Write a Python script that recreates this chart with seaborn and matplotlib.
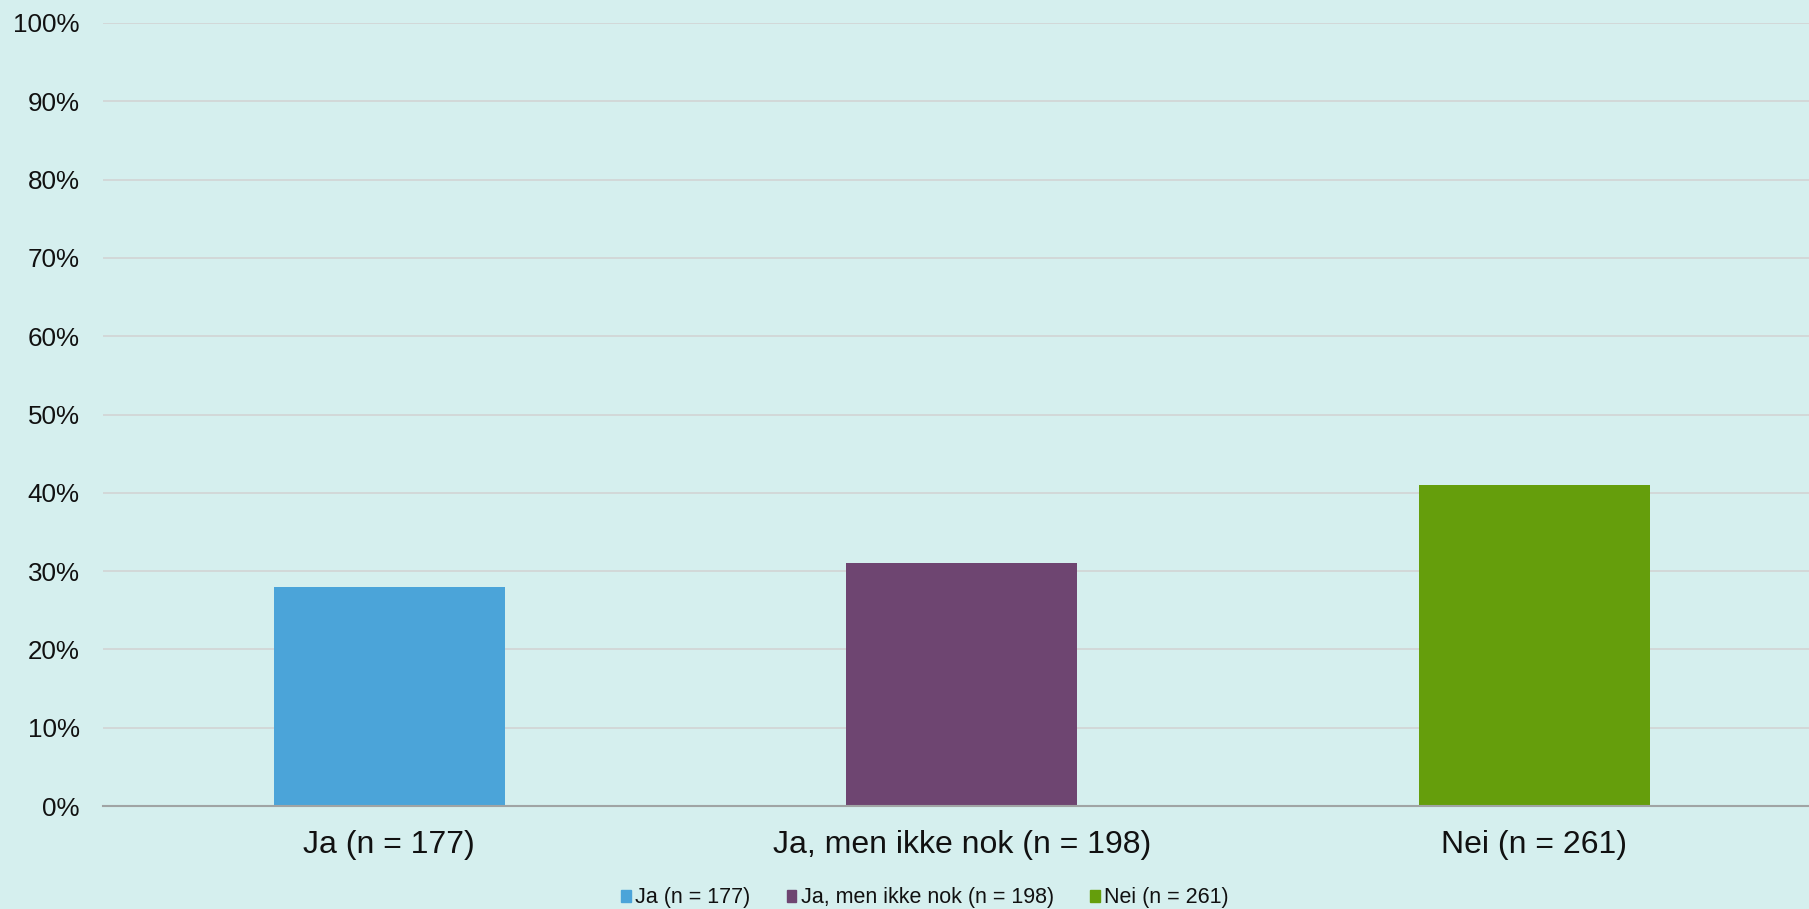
import matplotlib.pyplot as plt
import matplotlib.ticker as ticker
import pandas as pd
import seaborn as sns

# data
categories = ["Ja (n = 177)", "Ja, men ikke nok (n = 198)", "Nei (n = 261)"]
shares = [0.28, 0.31, 0.41]
colors = ["#4BA4D9", "#6E4571", "#659E0C"]

BG = "#D5EFEE"

df = pd.DataFrame({"svar": categories, "andel": shares})

sns.set_theme(style="white")
plt.rcParams["font.family"] = ["Liberation Sans", "DejaVu Sans"]

fig = plt.figure(figsize=(18.09, 9.09), dpi=100, facecolor=BG)
ax = fig.add_axes([0.057, 0.1133, 0.943, 0.8614])
ax.set_facecolor(BG)

sns.barplot(
    data=df,
    x="svar",
    y="andel",
    hue="svar",
    palette=colors,
    width=0.403,
    dodge=False,
    saturation=1,
    linewidth=0,
    legend=False,
    ax=ax,
)

ax.set_xlim(-0.5, 2.48)
ax.set_ylim(0, 1)
ax.yaxis.set_major_locator(ticker.MultipleLocator(0.1))
ax.yaxis.set_major_formatter(ticker.PercentFormatter(xmax=1, decimals=0))
ax.grid(axis="y", color="#D2D6D6", linewidth=1.3)
ax.set_axisbelow(True)
ax.set_xlabel("")
ax.set_ylabel("")

for side in ["top", "right", "left"]:
    ax.spines[side].set_visible(False)
ax.spines["bottom"].set_color("#A0A4A4")
ax.spines["bottom"].set_linewidth(1.5)

ax.tick_params(axis="y", length=0, pad=17, labelsize=18.7, labelcolor="#111111")
ax.tick_params(axis="x", length=0, pad=17, labelsize=23, labelcolor="#111111")

handles = [plt.Rectangle((0, 0), 1, 1, color=c) for c in colors]
fig.legend(
    handles,
    categories,
    loc="center",
    bbox_to_anchor=(925 / 1809, 1 - 898 / 909),
    ncol=3,
    frameon=False,
    fontsize=15.5,
    handlelength=0.45,
    handleheight=0.45,
    handletextpad=0.2,
    columnspacing=1.7,
    labelcolor="#111111",
)

fig.savefig("out.png", dpi=100, facecolor=BG)
